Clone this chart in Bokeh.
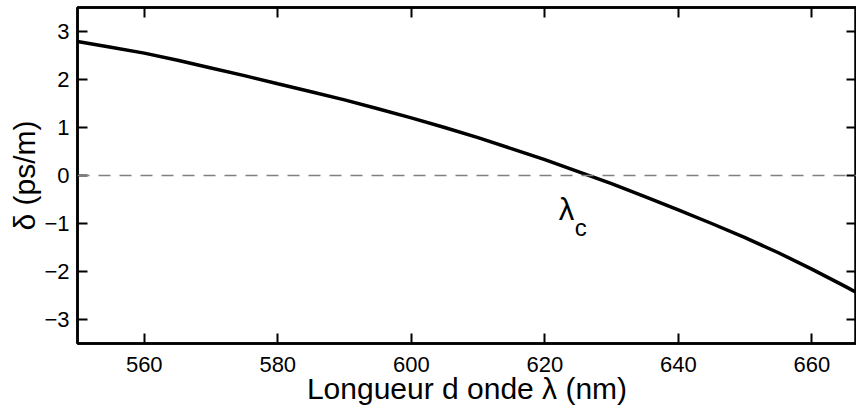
import numpy as np
from bokeh.plotting import figure
from bokeh.models import LinearAxis, FixedTicker, Span, Range1d, Label
from bokeh.embed import file_html
from bokeh.resources import INLINE

# ---- data ----
wavelength = [550, 555, 560, 565, 570, 575, 580, 585, 590, 595, 600, 605, 610,
              615, 620, 625, 630, 635, 640, 645, 650, 655, 660, 665, 667]
delta = [2.79, 2.67, 2.55, 2.40, 2.24, 2.08, 1.91, 1.745, 1.575, 1.39, 1.20, 1.00, 0.79,
         0.56, 0.33, 0.08, -0.17, -0.44, -0.715, -1.00, -1.295, -1.61, -1.95, -2.31, -2.46]
x_ticks = [560, 580, 600, 620, 640, 660]
y_ticks = [-3, -2, -1, 0, 1, 2, 3]
x_lim = (550, 666.7)
y_lim = (-3.5, 3.5)
x_title = "Longueur d onde λ (nm)"
y_title = "δ (ps/m)"
crossing_label = "λ"
crossing_sub = "c"

FONT = "Liberation Sans"

p = figure(width=856, height=412, output_backend="svg", toolbar_location=None,
           x_range=Range1d(*x_lim), y_range=Range1d(*y_lim),
           min_border_left=77, min_border_bottom=69, min_border_top=7, min_border_right=0,
           background_fill_color="white", border_fill_color="white")
p.grid.visible = False
p.outline_line_color = "black"
p.outline_line_width = 2.5

def style(ax, ticks, labels=True):
    ax.ticker = FixedTicker(ticks=ticks)
    ax.axis_line_color = "black"
    ax.axis_line_width = 2.5
    ax.major_tick_line_color = "black"
    ax.major_tick_line_width = 2
    ax.major_tick_in = 10
    ax.major_tick_out = 0
    ax.minor_tick_line_color = None
    if labels:
        ax.major_label_text_font = FONT
        ax.major_label_text_font_size = "22px"
        ax.major_label_text_color = "black"
        ax.axis_label_text_font = FONT
        ax.axis_label_text_font_size = "30px"
        ax.axis_label_text_font_style = "normal"
        ax.axis_label_text_color = "black"
        ax.major_label_overrides = {float(t): (str(t).replace("-", "\u2212")) for t in ticks}
    else:
        ax.major_label_overrides = {float(t): "" for t in ticks}
        ax.major_label_text_font_size = "1px"
        ax.major_label_standoff = 0
        ax.axis_label = None
        ax.axis_label_standoff = 0

xa = p.xaxis[0]
ya = p.yaxis[0]
style(xa, x_ticks)
style(ya, y_ticks)
xa.axis_label = x_title
ya.axis_label = y_title
xa.major_label_standoff = 13
ya.major_label_standoff = 8
xa.axis_label_standoff = -3
ya.axis_label_standoff = 0

top = LinearAxis()
style(top, x_ticks, labels=False)
p.add_layout(top, "above")
right = LinearAxis()
style(right, y_ticks, labels=False)
p.add_layout(right, "right")

p.add_layout(Span(location=0, dimension="width", line_color="#808080",
                  line_width=1.5, line_dash="12 9"))

p.line(wavelength, delta, line_color="black", line_width=3.5)

# label near the zero crossing
x0 = float(np.interp(0.0, delta[::-1], wavelength[::-1]))
p.add_layout(Label(x=x0, y=0, text=crossing_label, x_offset=-30, y_offset=-34,
                   text_font=FONT, text_font_size="31px", text_color="black",
                   text_baseline="alphabetic"))
p.add_layout(Label(x=x0, y=0, text=crossing_sub, x_offset=-14, y_offset=-52,
                   text_font=FONT, text_font_size="24px", text_color="black",
                   text_baseline="alphabetic"))

open("out.html", "w").write(file_html(p, INLINE))
